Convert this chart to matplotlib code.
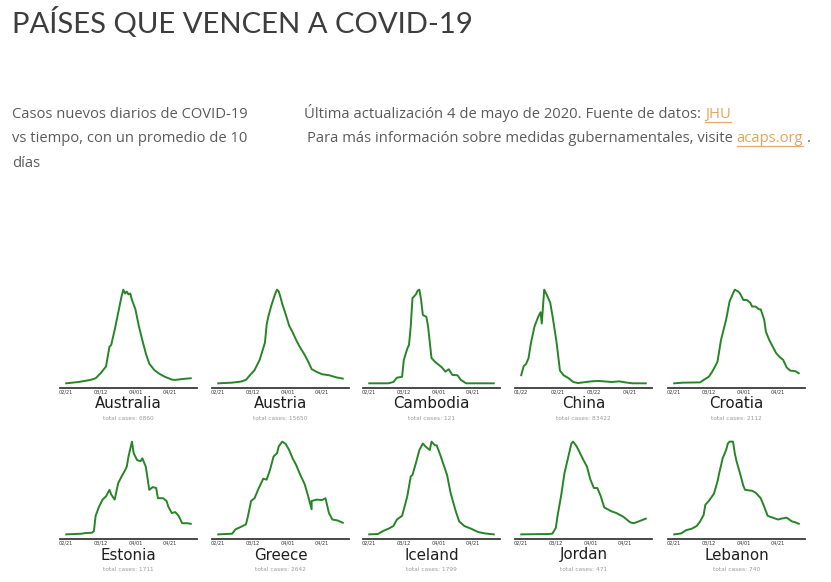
import numpy as np
import matplotlib
matplotlib.use("Agg")
import matplotlib.pyplot as plt
import matplotlib.dates as mdates
from matplotlib.lines import Line2D

# countries, totals and start dates
countries = ["Australia", "Austria", "Cambodia", "China", "Croatia",
             "Estonia", "Greece", "Iceland", "Jordan", "Lebanon"]
total_cases = [6860, 15650, 121, 83422, 2112, 1711, 2642, 1799, 471, 740]
start_dates = ["2020-02-21"] * 3 + ["2020-01-22"] + ["2020-02-21"] * 6

ticks_default = ["2020-02-21", "2020-03-12", "2020-04-01", "2020-04-21"]
ticks_china = ["2020-01-22", "2020-02-21", "2020-03-22", "2020-04-21"]

# new daily cases, 10-day average, % of peak
australia_days = [0, 7, 14, 17, 20, 23, 25, 26, 28, 30, 32, 33, 34, 35, 36, 37, 38, 40, 42, 44, 46, 48, 51, 54, 57, 61, 63, 67, 72]
australia_vals = [0, 1.4, 3.6, 5.4, 11, 18, 39, 41, 57, 75, 93, 100, 96, 98, 95, 96, 89, 79, 61, 46, 32, 21, 14, 10, 7, 4, 3.6, 4.6, 5.4]

austria_days = [0, 8, 13, 16, 18, 21, 24, 26, 27, 28, 29, 31, 33, 34, 35, 36, 37, 39, 41, 43, 45, 47, 50, 52, 54, 57, 60, 64, 68, 72]
austria_vals = [0, 0.7, 1.8, 3.6, 7.9, 14, 25, 37, 43, 62, 71, 84, 95, 99, 97, 91, 84, 73, 61, 54, 46, 39, 30, 23, 15, 12, 9.6, 8.6, 6.4, 5]

cambodia_days = [0, 11, 14, 16, 19, 20, 22, 23, 24, 25, 27, 28, 29, 30, 31, 33, 34, 36, 38, 40, 42, 44, 46, 48, 51, 53, 56, 72]
cambodia_vals = [0, 0, 1.4, 6, 7, 25, 37, 41, 61, 91, 95, 99, 100, 89, 73, 71, 61, 27, 23, 20, 17, 12.5, 15, 9, 8.6, 3.6, 0, 0]

china_days = [0, 2, 4, 6, 8, 11, 14, 16, 17, 19, 21, 24, 26, 29, 31, 32, 35, 39, 43, 47, 58, 64, 75, 81, 86, 92, 103]
china_vals = [9, 18.6, 21, 27, 43, 61, 71, 76, 64, 100, 95, 86, 71, 46, 25, 14, 9, 6, 1.8, 0.7, 2.5, 2.9, 1.8, 2.5, 1.4, 0.4, 0.4]

croatia_days = [0, 5, 15, 17, 20, 22, 25, 27, 30, 32, 34, 35, 37, 38, 40, 42, 43, 44, 45, 47, 49, 50, 52, 53, 55, 57, 59, 61, 63, 65, 67, 70, 72]
croatia_vals = [0, 0.7, 1, 3.6, 7, 12.5, 23, 46, 68, 87.5, 96, 100, 98, 96, 89, 89, 87.5, 86, 82, 82, 79, 79, 68, 55, 46, 39, 32, 28, 25, 17, 13.6, 13, 10.7]

estonia_days = [0, 9, 11, 15, 16, 17, 19, 21, 23, 25, 26, 28, 30, 32, 34, 35, 36, 37.5, 39, 41, 43, 44, 46, 48, 50, 52, 53, 56, 58, 59, 61, 63, 65, 67, 70, 72]
estonia_vals = [0, 0.7, 1.4, 1.8, 3.6, 20, 30, 37.5, 41, 48, 43, 37.5, 55, 62.5, 69, 73, 84, 100, 87.5, 80, 79, 82, 73, 48, 51, 50, 39, 39, 36, 30, 23, 24, 20, 12, 12, 11.4]

greece_days = [0, 8, 10, 13, 16, 17, 19, 21, 23, 26, 28, 30, 32, 34, 35, 37, 39, 41, 43, 45, 47, 50, 51.5, 53.5, 54.5, 57, 60, 62, 64, 66, 69, 72]
greece_vals = [0, 0.7, 5.4, 8, 10.7, 18, 36, 39, 48, 60, 59, 70, 84, 87.5, 95, 100, 97.5, 91, 82, 75, 66, 54, 41, 27, 36, 37.5, 37, 39, 23, 16, 15, 12.5]

iceland_days = [0, 5, 8, 11, 14, 16, 19, 22, 24, 25, 27, 29, 31, 33, 35, 36, 37.5, 39, 41, 43, 45, 47, 50, 52, 55, 59, 63, 67, 72]
iceland_vals = [0, 0.4, 3.6, 6, 9, 16, 20, 41, 62.5, 64, 77, 91, 98, 94, 91, 100, 96, 96, 86, 75, 64, 45, 25, 14, 9, 6, 2.5, 1, 0]

jordan_days = [0, 16, 18, 19.5, 21, 23, 25, 27, 29, 30, 32, 34, 36, 38, 40, 42, 44, 46, 48, 50, 52, 55, 59, 63, 65, 68, 72]
jordan_vals = [0, 0.4, 0.7, 7, 20, 41, 66, 82, 98, 100, 95, 87.5, 80, 73, 59, 50, 50, 41, 29, 27, 25, 23, 19, 13, 12, 14, 17]

lebanon_days = [0, 4, 7, 10, 13, 15, 17, 18.5, 20, 23, 25, 26, 28, 30, 31, 32, 34, 35, 36, 38, 40, 41, 45, 47, 48, 50, 52, 54.5, 57, 60, 62, 65, 68, 70, 72]
lebanon_vals = [0, 1, 4.6, 6, 9, 14, 21, 32, 36, 44, 57, 66, 82, 91, 98, 100, 100, 87.5, 79, 66, 52, 48, 47, 45, 43, 39, 30, 20, 18, 16, 17, 18, 14, 13, 11.4]

all_days = [australia_days, austria_days, cambodia_days, china_days, croatia_days,
            estonia_days, greece_days, iceland_days, jordan_days, lebanon_days]
all_vals = [australia_vals, austria_vals, cambodia_vals, china_vals, croatia_vals,
            estonia_vals, greece_vals, iceland_vals, jordan_vals, lebanon_vals]

W, H = 831, 582
BODY_FONT = "Open Sans"
fig = plt.figure(figsize=(W / 100, H / 100), dpi=100)
fig.patch.set_facecolor("white")
renderer = fig.canvas.get_renderer()


def put_runs(x, y, runs, size):
    # place text pieces one after another on the same baseline (pixel coords from top-left)
    for txt, col, link in runs:
        t = fig.text(x / W, 1 - y / H, txt, color=col, fontsize=size,
                     family=BODY_FONT, va="baseline", ha="left")
        bb = t.get_window_extent(renderer)
        if link:
            fig.add_artist(Line2D([bb.x0 / W, bb.x1 / W], [(H - y - 4) / H] * 2,
                                  color="#dcae6a", lw=0.9))
        x = bb.x1 + 3.8


# header
fig.text(12 / W, 1 - 33 / H, "PAÍSES QUE VENCEN A COVID-19", fontsize=21.1,
         family="Lato", color="#3d3d3d", va="baseline")

grey = "#5a5a5a"
link_col = "#e3a45a"
for i, line in enumerate(["Casos nuevos diarios de COVID-19",
                          "vs tiempo, con un promedio de 10", "días"]):
    fig.text(12 / W, 1 - (118 + 24.5 * i) / H, line, fontsize=10.6,
             family=BODY_FONT, color=grey, va="baseline")

put_runs(304, 118, [("Última actualización 4 de mayo de 2020. Fuente de datos:", grey, False),
                    ("JHU", link_col, True)], 10.6)
put_runs(307, 142, [("Para más información sobre medidas gubernamentales, visite", grey, False),
                    ("acaps.org", link_col, True), (".", grey, False)], 10.6)

# small multiples
col_left = [60, 212, 363, 515, 668]
row_top = [285, 437]
row_bottom = [388, 539]
ax_w = 137

for k, name in enumerate(countries):
    r, c = divmod(k, 5)
    left = col_left[c]
    h = row_bottom[r] - row_top[r]
    ax = fig.add_axes([left / W, 1 - row_bottom[r] / H, ax_w / W, h / H])
    x = np.datetime64(start_dates[k]) + np.array(all_days[k]).round().astype("timedelta64[D]")
    ax.plot(x, all_vals[k], color="#268526", lw=1.4)
    for s in ["top", "left", "right"]:
        ax.spines[s].set_visible(False)
    ax.spines["bottom"].set_color("#3a3a3a")
    ax.spines["bottom"].set_linewidth(1.3)
    ax.set_yticks([])
    tk = ticks_china if name == "China" else ticks_default
    ax.set_xticks([np.datetime64(t) for t in tk])
    ax.xaxis.set_major_formatter(mdates.DateFormatter("%m/%d"))
    ax.tick_params(axis="x", length=0, pad=1.2, labelsize=3.6, labelcolor="#333333")
    ax.set_facecolor("none")

    cx = (left + ax_w / 2) / W
    base_y = row_bottom[r] + 20.5
    fig.text(cx, 1 - base_y / H, name, ha="center", va="baseline", fontsize=10.8,
             color="#1e1e1e")
    fig.text(cx, 1 - (base_y + 10) / H, f"total cases: {total_cases[k]}",
             ha="center", va="center", fontsize=4.2, color="#9a9a9a")

fig.savefig("out.png", dpi=100, facecolor="white")
